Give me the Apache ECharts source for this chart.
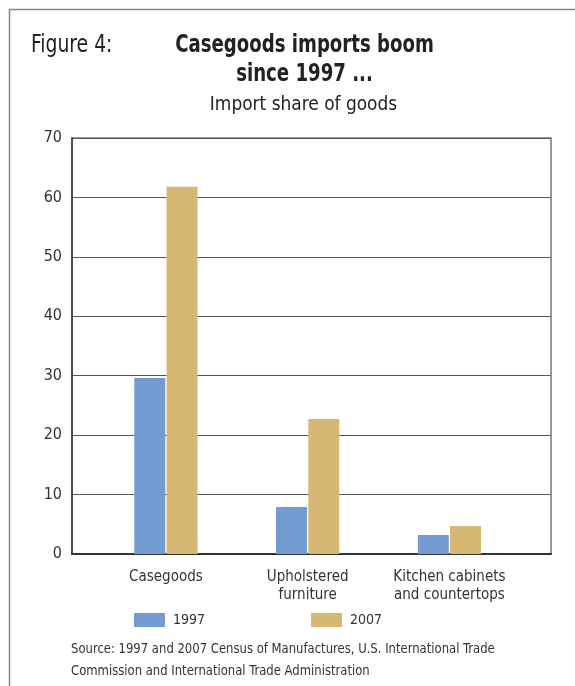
<!DOCTYPE html>
<html>
<head>
<meta charset="utf-8">
<script src="https://cdn.jsdelivr.net/npm/echarts@6/dist/echarts.min.js"></script>
<style>
  html, body { margin: 0; padding: 0; background: #fff; }
  #chart { width: 575px; height: 686px; }
</style>
</head>
<body>
<div id="chart"></div>
<script>
// Import share of goods, by furniture segment (percent)
const categories = ['Casegoods', 'Upholstered\nfurniture', 'Kitchen cabinets\nand countertops'];
const share1997 = [29.6, 7.9, 3.2];
const share2007 = [61.8, 22.7, 4.7];
const yTicks = [0, 10, 20, 30, 40, 50, 60, 70];

const FONT = '"DejaVu Sans Condensed", "Liberation Sans Narrow", sans-serif';
const BLUE = '#729BD1';
const GOLD = '#D6B874';

// narrow heading text: condensed face squeezed a little further horizontally
function headingText(text, x, y, size, weight, align, sx, lineHeight, color) {
  return {
    type: 'text', x: x, y: y, scaleX: sx, silent: true,
    style: {
      text: text, x: 0, y: 0, align: align, verticalAlign: 'top',
      font: weight + ' ' + size + 'px ' + FONT,
      lineHeight: lineHeight || size * 1.2,
      fill: color || '#222'
    }
  };
}

const chart = echarts.init(document.getElementById('chart'), null, { renderer: 'canvas' });

chart.setOption({
  animation: false,
  backgroundColor: '#fff',
  textStyle: { fontFamily: FONT },
  graphic: [
    {
      type: 'rect',
      shape: { x: 9.5, y: 9.5, width: 600, height: 700 },
      style: { fill: 'none', stroke: '#888', lineWidth: 1.5 },
      silent: true
    },
    headingText('Figure 4:', 31, 31, 24, 'normal', 'left', 0.87, 29),
    headingText('Casegoods imports boom\nsince 1997 ...', 304.5, 31, 24, 'bold', 'center', 0.84, 29),
    headingText('Import share of goods', 303.5, 93, 20, 'normal', 'center', 0.945, 24),
    headingText('Source: 1997 and 2007 Census of Manufactures, U.S. International Trade\nCommission and International Trade Administration',
      71, 638, 14, 'normal', 'left', 0.924, 22, '#333')
  ],
  legend: {
    left: 129, top: 608,
    itemWidth: 31, itemHeight: 14, itemGap: 106,
    icon: 'rect',
    textStyle: { fontFamily: FONT, fontSize: 14, color: '#333', padding: [0, 0, 0, 3] },
    data: ['1997', '2007']
  },
  grid: [
    // frame with value scale and gridlines
    { left: 72, right: 24, top: 138, height: 416, show: true, borderColor: '#777', borderWidth: 1.5, backgroundColor: 'transparent' },
    // bar area
    { left: 95, width: 425.3, top: 138, height: 416 }
  ],
  xAxis: [
    {
      gridIndex: 0, type: 'category', data: ['', '', ''],
      axisLine: { show: true, lineStyle: { color: '#333', width: 2 } },
      axisTick: { show: false }, axisLabel: { show: false }, splitLine: { show: false }
    },
    {
      gridIndex: 1, type: 'category', data: categories,
      axisLine: { show: false }, axisTick: { show: false },
      axisLabel: { interval: 0, fontFamily: FONT, fontSize: 15, color: '#333', lineHeight: 18, margin: 14 }
    }
  ],
  yAxis: [
    {
      gridIndex: 0, type: 'value', min: 0, max: 70, interval: 10,
      axisLine: { show: true, lineStyle: { color: '#333', width: 1.5 } },
      axisTick: { show: false },
      axisLabel: {
        fontFamily: FONT, fontSize: 16, color: '#333', margin: 10,
        formatter: v => yTicks.includes(v) ? String(v) : ''
      },
      splitLine: { show: true, lineStyle: { color: '#555', width: 1.2 } }
    },
    {
      gridIndex: 1, type: 'value', min: 0, max: 70, interval: 10,
      axisLine: { show: false }, axisTick: { show: false }, axisLabel: { show: false },
      splitLine: { show: false }
    }
  ],
  series: [
    {
      name: '1997', type: 'bar', xAxisIndex: 1, yAxisIndex: 1,
      data: share1997, barWidth: 31, barGap: '4%',
      itemStyle: { color: BLUE }
    },
    {
      name: '2007', type: 'bar', xAxisIndex: 1, yAxisIndex: 1,
      data: share2007, barWidth: 31, barGap: '4%',
      itemStyle: { color: GOLD }
    }
  ]
});
</script>
</body>
</html>
